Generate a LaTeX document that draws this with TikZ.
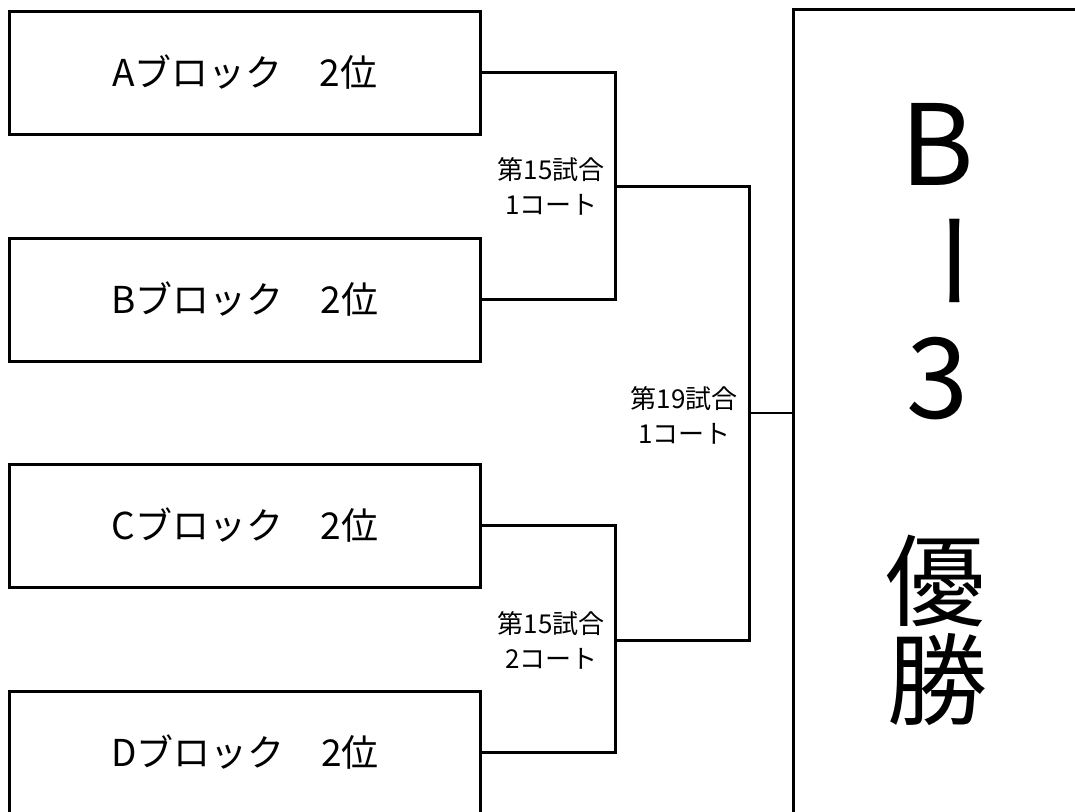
\documentclass[tikz,border=0pt]{standalone}
\usepackage{fontspec}
\newfontfamily\jpfont{Noto Sans CJK JP}
\tikzset{
  block/.style={draw, line width=3pt, minimum width=471pt, minimum height=123pt,
    inner sep=0pt, font=\jpfont\fontsize{37pt}{44pt}\selectfont},
  lbl/.style={align=center, inner sep=0pt, font=\jpfont\fontsize{26pt}{35pt}\selectfont},
  big/.style={inner sep=0pt, font=\jpfont\fontsize{100pt}{100pt}\selectfont}
}

\begin{document}
\begin{tikzpicture}[x=1pt,y=-1pt]
	\clip (0,0) rectangle (1075,811);
	% 各ブロックの枠
	\node[block] (a) at (245,72.5) {Aブロック　2位};
	\node[block] (b) at (245,299.5) {Bブロック　2位};
	\node[block] (c) at (245,525.5) {Cブロック　2位};
	\node[block] (d) at (245,752.5) {Dブロック　2位};

	% 優勝の枠
	\node[draw, line width=3pt, minimum width=290pt, minimum height=820pt] (win) at (938,419) {};

	\coordinate (m1) at (615,186);
	\coordinate (m2) at (615,640);
	\coordinate (m3) at (749,413);

	% トーナメントの線
	\draw[line width=3pt] (a.east) -| (m1) |- (b.east);
	\draw[line width=3pt] (c.east) -| (m2) |- (d.east);
	\draw[line width=3pt] (m1) -| (m3) |- (m2);
	\draw[line width=2pt] (m3) -- (m3 -| win.west);

	% 試合の表示
	\node[lbl, anchor=east] (g1) at ([xshift=-10pt]m1) {第15試合\\1コート};
	\node[lbl, anchor=east] (g2) at ([xshift=-10pt]m2) {第15試合\\2コート};
	\node[lbl, anchor=east] (g3) at ([xshift=-11pt,yshift=-2pt]m3) {第19試合\\1コート};

	% 縦書きの文字
	\node[big, font=\jpfont\fontsize{112pt}{112pt}\selectfont] (t1) at (937,144) {B};
	\node[big, rotate=-90, font=\jpfont\fontsize{105pt}{105pt}\selectfont] (t2) at (937,261) {ー};
	\node[big, font=\jpfont\fontsize{112pt}{112pt}\selectfont] (t3) at (938,379) {3};
	\node[big] (t4) at (935,581) {優};
	\node[big] (t5) at (937,680) {勝};
\end{tikzpicture}
\end{document}
